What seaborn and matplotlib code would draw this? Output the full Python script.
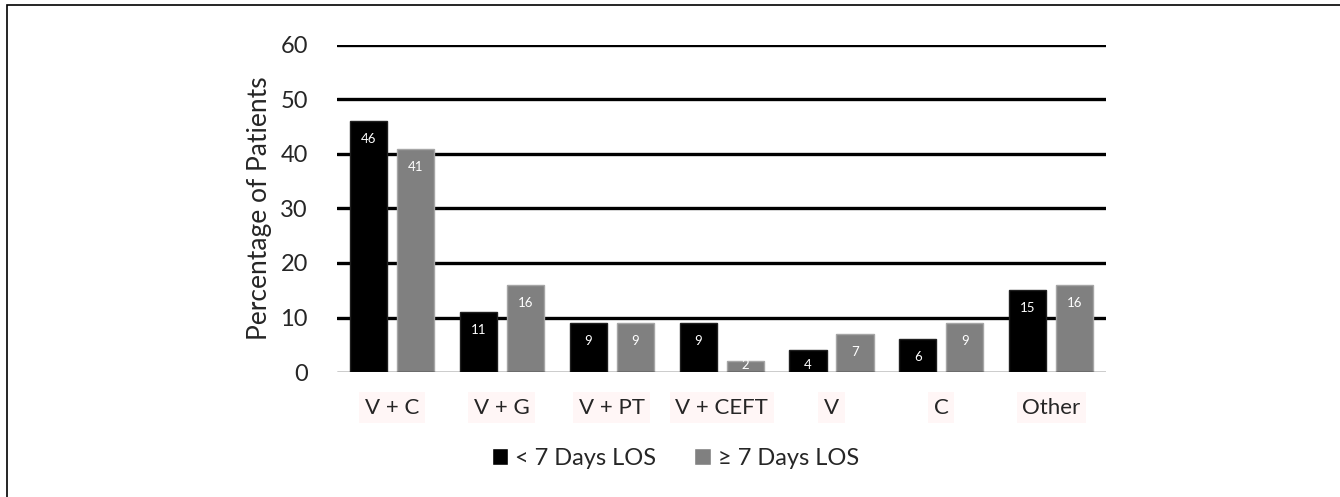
import pandas as pd
import matplotlib.pyplot as plt
import seaborn as sns
from matplotlib.patches import Rectangle

# dados
categorias = ["V + C", "V + G", "V + PT", "V + CEFT", "V", "C", "Other"]
menos_7 = [46, 11, 9, 9, 4, 6, 15]
mais_7 = [41, 16, 9, 2, 7, 9, 16]
grupos = ["< 7 Days LOS", "≥ 7 Days LOS"]
cores = {"< 7 Days LOS": "#000000", "≥ 7 Days LOS": "#808080"}
bordas = {"< 7 Days LOS": "#202020", "≥ 7 Days LOS": "#a6a6a6"}

df = pd.DataFrame({
    "regime": categorias * 2,
    "pct": menos_7 + mais_7,
    "grupo": [grupos[0]] * len(categorias) + [grupos[1]] * len(categorias),
})

sns.set_theme(style="white")
plt.rcParams["font.family"] = ["Lato", "DejaVu Sans"]

fig = plt.figure(figsize=(13.4, 4.97), dpi=100)
# moldura (só aparecem os lados de cima e da esquerda)
fig.add_artist(Rectangle((7 / 1340, -0.2), 1.2, 1.19, transform=fig.transFigure,
                         fill=False, edgecolor="black", linewidth=1.2))
ax = fig.add_axes([0.2515, 0.2515, 0.574, 0.658])

sns.barplot(data=df, x="regime", y="pct", hue="grupo", order=categorias,
            hue_order=grupos, palette=cores, width=0.855, gap=0.21,
            saturation=1, ax=ax, legend=True, zorder=3)

# rótulos dentro da barra (estilo Excel: "inside end", presos acima do eixo)
for cont, g in zip(ax.containers, grupos):
    for p, v in zip(cont, cont.datavalues):
        p.set_edgecolor(bordas[g])
        p.set_linewidth(1)
        yc = max(v - 3.3, 1.3)
        ax.text(p.get_x() + p.get_width() / 2, yc, f"{v:.0f}", color="white",
                fontsize=9.5, ha="center", va="center", zorder=4)

ax.set_ylim(0, 60)
ax.set_xlim(-0.5, 6.5)
ax.set_yticks(range(0, 61, 10))
for y in range(10, 61, 10):
    ax.axhline(y, color="black", linewidth=2.4, zorder=1)
ax.axhline(0, color="black", linewidth=1, zorder=5)
for s in ax.spines.values():
    s.set_visible(False)

ax.tick_params(axis="y", length=0, pad=21, labelsize=17)
ax.tick_params(axis="x", length=0, pad=18.5, labelsize=16)
for t in ax.get_xticklabels():
    t.set_bbox(dict(facecolor="#fff6f6", edgecolor="none", pad=4))
ax.set_xlabel("")
ax.set_ylabel("Percentage of Patients", fontsize=19, labelpad=6)

handles, labels = ax.get_legend_handles_labels()
ax.legend_.remove()
fig.legend(handles, labels, loc="center", bbox_to_anchor=(0.504, 0.078),
           ncol=2, frameon=False, fontsize=17, handlelength=0.7,
           handleheight=0.7, handletextpad=0.3, columnspacing=1.6)

fig.savefig("out.png", dpi=100)
